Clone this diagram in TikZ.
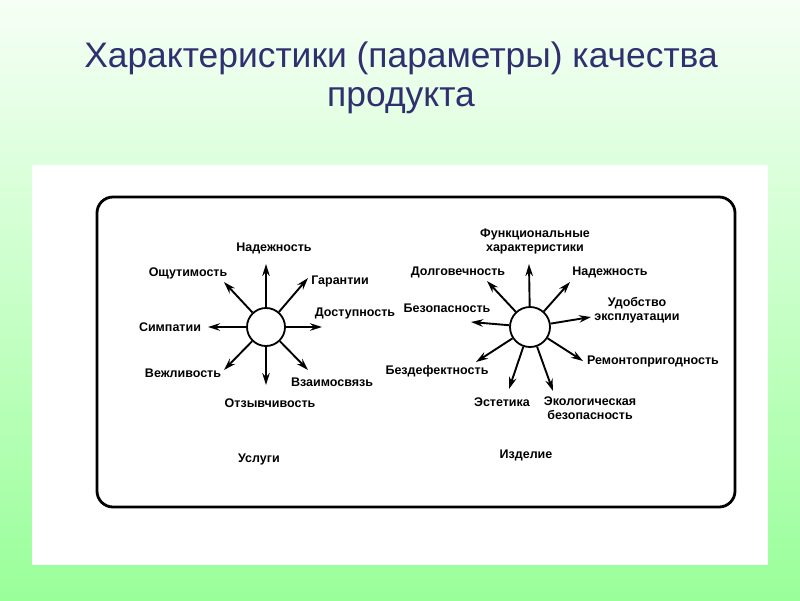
\documentclass[tikz,border=0pt]{standalone}
\usepackage{fontspec}
\setmainfont{Liberation Sans}
\usetikzlibrary{arrows.meta}
\definecolor{titleblue}{RGB}{48,48,112}
\definecolor{bgtop}{RGB}{246,255,246}
\definecolor{bgbottom}{RGB}{153,255,153}
\tikzset{
  lbl/.style={font=\fontsize{12.5}{14}\selectfont\bfseries, inner sep=0pt, align=center},
  hub/.style={circle, draw, line width=1.8pt, fill=white, minimum size=38pt, inner sep=0pt},
  arr/.style={line width=1.9pt, -{Stealth[length=12pt,width=7.5pt]}}
}
\begin{document}
\begin{tikzpicture}[x=1pt,y=-1pt]
\useasboundingbox (0,0) rectangle (800,600);
\shade[top color=bgtop, bottom color=bgbottom] (0,0) rectangle (800,600);
\fill[white] (32,165) rectangle (768,565);
\node[font=\fontsize{35.4}{42}\selectfont, text=titleblue] (t1) at (401,58) {Характеристики (параметры) качества};
\node[font=\fontsize{35.4}{42}\selectfont, text=titleblue] (t2) at (401,101) {продукта};
\draw[line width=2.8pt, rounded corners=16pt] (97,197) rectangle (735,507);

% uslugi
\node[hub] (L) at (266,327){};
\coordinate (lt0) at (266,264);
\coordinate (lt1) at (308,278);
\coordinate (lt2) at (322,327);
\coordinate (lt3) at (308,370);
\coordinate (lt4) at (266,385);
\coordinate (lt5) at (224,370);
\coordinate (lt6) at (208,327);
\coordinate (lt7) at (224,282);
\draw[arr](L) -- (lt0);
\draw[arr](L) -- (lt1);
\draw[arr](L) -- (lt2);
\draw[arr](L) -- (lt3);
\draw[arr](L) -- (lt4);
\draw[arr](L) -- (lt5);
\draw[arr](L) -- (lt6);
\draw[arr](L) -- (lt7);
\node[lbl] (l0) at (274,248){Надежность};
\node[lbl] (l1) at (340,281){Гарантии};
\node[lbl] (l2) at (355,313){Доступность};
\node[lbl] (l3) at (332,382){Взаимосвязь};
\node[lbl] (l4) at (270,403){Отзывчивость};
\node[lbl] (l5) at (183,373){Вежливость};
\node[lbl] (l6) at (170,327){Симпатии};
\node[lbl] (l7) at (188,273){Ощутимость};
\node[lbl] (ls) at (259,459){Услуги};

% izdelie
\node[hub, minimum size=40pt] (R) at (530,327){};
\coordinate (rt0) at (529,264);
\coordinate (rt1) at (570,282);
\coordinate (rt2) at (591,317);
\coordinate (rt3) at (583,361);
\coordinate (rt4) at (553,391);
\coordinate (rt5) at (509,389);
\coordinate (rt6) at (476,362);
\coordinate (rt7) at (471,322);
\coordinate (rt8) at (487,281);
\draw[arr](R) -- (rt0);
\draw[arr](R) -- (rt1);
\draw[arr](R) -- (rt2);
\draw[arr](R) -- (rt3);
\draw[arr](R) -- (rt4);
\draw[arr](R) -- (rt5);
\draw[arr](R) -- (rt6);
\draw[arr](R) -- (rt7);
\draw[arr](R) -- (rt8);
\node[lbl] (r0) at (535,241){Функциональные\\характеристики};
\node[lbl] (r1) at (610,272){Надежность};
\node[lbl] (r2) at (637,310){Удобство\\эксплуатации};
\node[lbl] (r3) at (653,361){Ремонтопригодность};
\node[lbl] (r4) at (590,408){Экологическая\\безопасность};
\node[lbl] (r5) at (502,402){Эстетика};
\node[lbl] (r6) at (437,371){Бездефектность};
\node[lbl] (r7) at (447,308){Безопасность};
\node[lbl] (r8) at (458,272){Долговечность};
\node[lbl] (rs) at (526,455){Изделие};
\end{tikzpicture}
\end{document}
